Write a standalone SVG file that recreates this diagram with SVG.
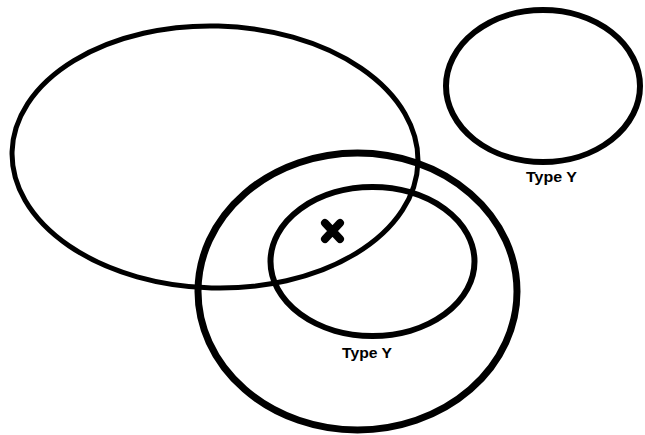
<svg xmlns="http://www.w3.org/2000/svg" width="645" height="435" viewBox="0 0 645 435">
<style>
.sh{fill:none;stroke:#000;stroke-linecap:round}
.lbl{font-family:"Liberation Sans","Open Sans",sans-serif;font-weight:bold;font-size:15px;fill:#000;text-anchor:middle}
</style>
<rect width="645" height="435" fill="#fff"/>
<g id="large-ellipse"><ellipse class="sh" cx="215" cy="157" rx="203" ry="131" stroke-width="5" transform="rotate(1.5 215 157)"/></g>
<g id="outer-circle"><ellipse class="sh" cx="357.5" cy="291.5" rx="159.5" ry="138.5" stroke-width="7"/></g>
<g id="inner-type-y"><ellipse class="sh" cx="372.5" cy="261.5" rx="102" ry="74.5" stroke-width="6"/>
<text class="lbl" x="367" y="358" textLength="50" lengthAdjust="spacingAndGlyphs">Type Y</text></g>
<g id="top-type-y"><ellipse class="sh" cx="543" cy="86" rx="97" ry="76" stroke-width="6"/>
<text class="lbl" x="551.5" y="182" textLength="51" lengthAdjust="spacingAndGlyphs">Type Y</text></g>
<g id="x-mark"><path class="sh" d="M325 223L340 239M340 223L325 239" stroke-width="8"/></g>
</svg>
